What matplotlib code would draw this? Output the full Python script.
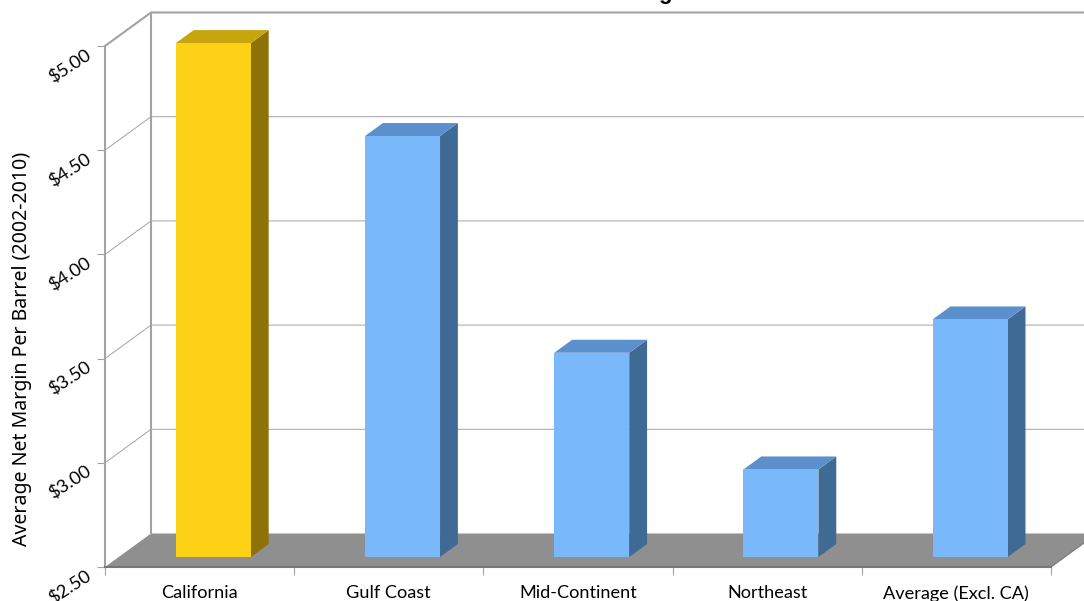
import matplotlib
matplotlib.use("Agg")
import matplotlib.pyplot as plt
from matplotlib.patches import Polygon

categories = ["California", "Gulf Coast", "Mid-Continent", "Northeast", "Average (Excl. CA)"]
values = [4.966, 4.52, 3.48, 2.92, 3.64]
y_ticks = [2.5, 3.0, 3.5, 4.0, 4.5, 5.0]
y_tick_labels = ["$2.50", "$3.00", "$3.50", "$4.00", "$4.50", "$5.00"]
y_label = "Average Net Margin Per Barrel (2002-2010)"
title = "California Net Margin"

W, H = 1084, 601
FONT = "Lato"
GREY = "#a3a3a3"
DX = 46 / 189.2      # chart depth, in category units
DY = 33.5 / 208.4    # chart depth, in dollars
BAR_W = 75 / 189.2
D0, D1 = 10 / 33.5, 23 / 33.5
BASE = 2.5
XMAX = len(categories)


def proj(x, v, d):
    return (x + d * DX, v + d * DY)


fig = plt.figure(figsize=(W / 100, H / 100), dpi=100)
ax = fig.add_axes([105 / W, (H - 567) / H, 946 / W, 521 / H])
ax.set_xlim(0, XMAX)
ax.set_ylim(BASE, 5.0)
ax.patch.set_visible(False)
for s in ("top", "right"):
    ax.spines[s].set_visible(False)
ax.spines["left"].set_color(GREY)
ax.spines["left"].set_linewidth(1.5)
ax.spines["bottom"].set_color("#777777")
ax.spines["bottom"].set_linewidth(1.5)

# category ticks and labels
ax.set_xticks(range(XMAX + 1))
ax.set_xticklabels([])
ax.tick_params(axis="x", which="major", length=5.8, width=0.8, color=GREY)
ax.set_xticks([i + 0.5 for i in range(XMAX)], minor=True)
ax.set_xticklabels(categories, minor=True, fontsize=13.1, family=FONT, color="black")
ax.tick_params(axis="x", which="minor", length=0, pad=13)

# value ticks and labels
ax.set_yticks(y_ticks)
ax.set_yticklabels(y_tick_labels, fontsize=13.2, family=FONT, rotation=33,
                   rotation_mode="anchor", ha="right", va="top")
ax.tick_params(axis="y", length=5.8, width=0.8, color=GREY, pad=8.5)


def line(pts, lw, color=GREY, z=1):
    ax.plot([p[0] for p in pts], [p[1] for p in pts], color=color, lw=lw,
            clip_on=False, zorder=z, solid_capstyle="projecting")


# floor
ax.add_patch(Polygon([proj(0, BASE, 0), proj(XMAX, BASE, 0), proj(XMAX, BASE, 1), proj(0, BASE, 1)],
                     closed=True, fc="#8f8f8f", ec="none", clip_on=False, zorder=1))

# walls and gridlines
for v in y_ticks[1:]:
    lw = 1.5 if v == y_ticks[-1] else 0.7
    line([proj(0, v, 0), proj(0, v, 1), proj(XMAX, v, 1)], lw)
line([proj(0, BASE, 1), proj(0, y_ticks[-1], 1)], 1.5)
line([proj(XMAX, BASE, 0), proj(XMAX, BASE, 1)], 0.8, "#777777")

# bars
for i, v in enumerate(values):
    gold = i == 0
    front, top, side = (("#FDD116", "#C6A50D", "#8E7206") if gold
                        else ("#7AB8FC", "#5B90CC", "#3F6A94"))
    x0 = i + 0.5 - BAR_W / 2
    x1 = i + 0.5 + BAR_W / 2
    ax.add_patch(Polygon([proj(x1, BASE, D0), proj(x1, BASE, D1), proj(x1, v, D1), proj(x1, v, D0)],
                         closed=True, fc=side, ec="none", clip_on=False, zorder=3))
    ax.add_patch(Polygon([proj(x0, v, D0), proj(x1, v, D0), proj(x1, v, D1), proj(x0, v, D1)],
                         closed=True, fc=top, ec="none", clip_on=False, zorder=3))
    ax.add_patch(Polygon([proj(x0, BASE, D0), proj(x1, BASE, D0), proj(x1, v, D0), proj(x0, v, D0)],
                         closed=True, fc=front, ec="none", clip_on=False, zorder=4))

fig.text(22.5 / W, 1 - 348.5 / H, y_label, rotation=90, ha="center", va="center",
         fontsize=14.05, family="Noto Sans", color="black")
fig.text(581 / W, 1 + 0.5 / H, title, ha="center", va="baseline", fontsize=16,
         fontweight="bold", family="Liberation Sans", color="black")

fig.savefig("out.png", dpi=100)
